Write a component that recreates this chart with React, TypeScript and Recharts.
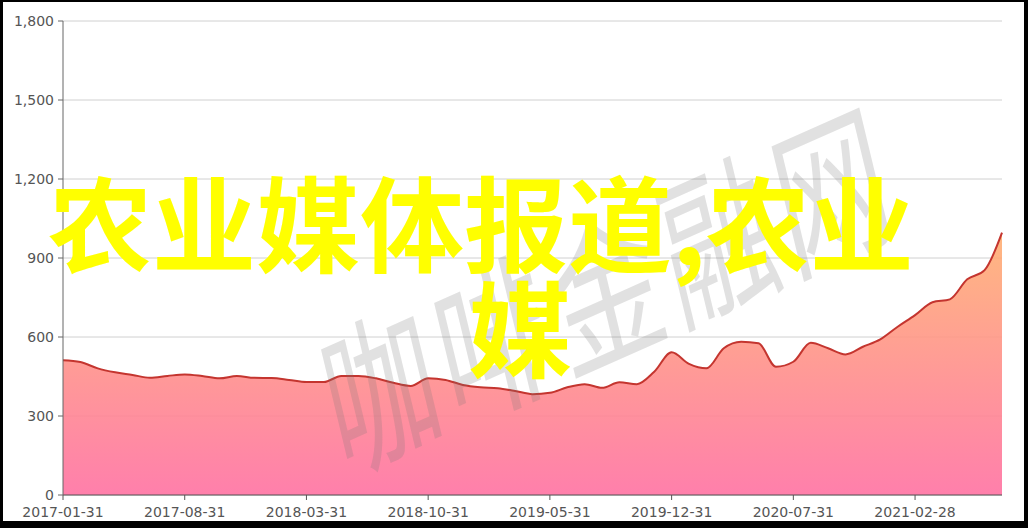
import React from 'react';
import { AreaChart, Area, XAxis, YAxis, CartesianGrid } from 'recharts';

// month-end dates, 2017-01 .. 2021-07
const months: string[] = [
  '2017-01-31', '2017-02-28', '2017-03-31', '2017-04-30', '2017-05-31', '2017-06-30',
  '2017-07-31', '2017-08-31', '2017-09-30', '2017-10-31', '2017-11-30', '2017-12-31',
  '2018-01-31', '2018-02-28', '2018-03-31', '2018-04-30', '2018-05-31', '2018-06-30',
  '2018-07-31', '2018-08-31', '2018-09-30', '2018-10-31', '2018-11-30', '2018-12-31',
  '2019-01-31', '2019-02-28', '2019-03-31', '2019-04-30', '2019-05-31', '2019-06-30',
  '2019-07-31', '2019-08-31', '2019-09-30', '2019-10-31', '2019-11-30', '2019-12-31',
  '2020-01-31', '2020-02-29', '2020-03-31', '2020-04-30', '2020-05-31', '2020-06-30',
  '2020-07-31', '2020-08-31', '2020-09-30', '2020-10-31', '2020-11-30', '2020-12-31',
  '2021-01-31', '2021-02-28', '2021-03-31', '2021-04-30', '2021-05-31', '2021-06-30',
  '2021-07-31',
];

const values: number[] = [
  512, 505, 481, 466, 456, 445, 452, 458, 452, 443, 452, 445,
  444, 437, 429, 429, 452, 452, 443, 426, 414, 443, 437, 418,
  409, 405, 395, 383, 388, 409, 421, 407, 428, 421, 468, 542,
  498, 481, 557, 582, 576, 487, 506, 578, 557, 534, 563, 591,
  639, 683, 732, 743, 819, 854, 996,
];

const yTicks = [0, 300, 600, 900, 1200, 1500, 1800];

const headline1 = '农业媒体报道,农业';
const headline2 = '媒';
const watermark = '咖啡金融网';

const data = months.map((m, i) => ({ date: m, value: values[i] }));

const tickStyle = { fill: '#555', fontSize: 14, fontFamily: 'DejaVu Sans, sans-serif' };

export default function App() {
  return (
    <div style={{ position: 'fixed', left: 0, top: 0, width: 1028, height: 528, background: '#000', overflow: 'hidden' }}>
      <div style={{ position: 'absolute', left: 3, top: 2, width: 1021, height: 519, background: '#fff' }} />
      <div style={{ position: 'absolute', left: 0, top: 0 }}>
        <AreaChart width={1028} height={528} data={data} margin={{ top: 21, right: 26, bottom: 3, left: 8 }}>
          <defs>
            <linearGradient id="areaFill" x1="0" y1="0" x2="0" y2="1">
              <stop offset="0%" stopColor="#ffb072" stopOpacity={0.9} />
              <stop offset="100%" stopColor="#ff71a2" stopOpacity={0.9} />
            </linearGradient>
          </defs>
          <CartesianGrid vertical={false} stroke="#d0d0d0" />
          <XAxis
            dataKey="date"
            interval={6}
            height={30}
            tickSize={5}
            tickMargin={7}
            stroke="#555"
            tick={tickStyle}
          />
          <YAxis
            domain={[0, 1800]}
            ticks={yTicks}
            width={55}
            tickSize={5}
            tickMargin={4}
            stroke="#666"
            tick={tickStyle}
            tickFormatter={(v: number) => v.toLocaleString('en-US')}
          />
          <Area
            type="monotone"
            dataKey="value"
            stroke="#c4352f"
            strokeWidth={2}
            fill="url(#areaFill)"
            fillOpacity={1}
            dot={false}
            activeDot={false}
            isAnimationActive={false}
          />
        </AreaChart>
      </div>
      <svg width={1028} height={528} style={{ position: 'absolute', left: 0, top: 0, pointerEvents: 'none' }}>
        <text
          transform="matrix(0.914,-0.407,0.327,1.36,342,474)"
          fontSize={116}
          letterSpacing={7}
          fill="rgba(120,120,120,0.22)"
          fontFamily="Noto Sans CJK SC"
        >
          {watermark}
        </text>
      </svg>
      <div
        style={{
          position: 'absolute', left: 48, top: 168, fontSize: 104, lineHeight: '104px',
          color: '#ffff00', fontFamily: 'Noto Sans CJK SC', fontWeight: 'bold', whiteSpace: 'nowrap',
        }}
      >
        {headline1}
      </div>
      <div
        style={{
          position: 'absolute', left: 468, top: 273, fontSize: 104, lineHeight: '104px',
          color: '#ffff00', fontFamily: 'Noto Sans CJK SC', fontWeight: 'bold', whiteSpace: 'nowrap',
        }}
      >
        {headline2}
      </div>
    </div>
  );
}
